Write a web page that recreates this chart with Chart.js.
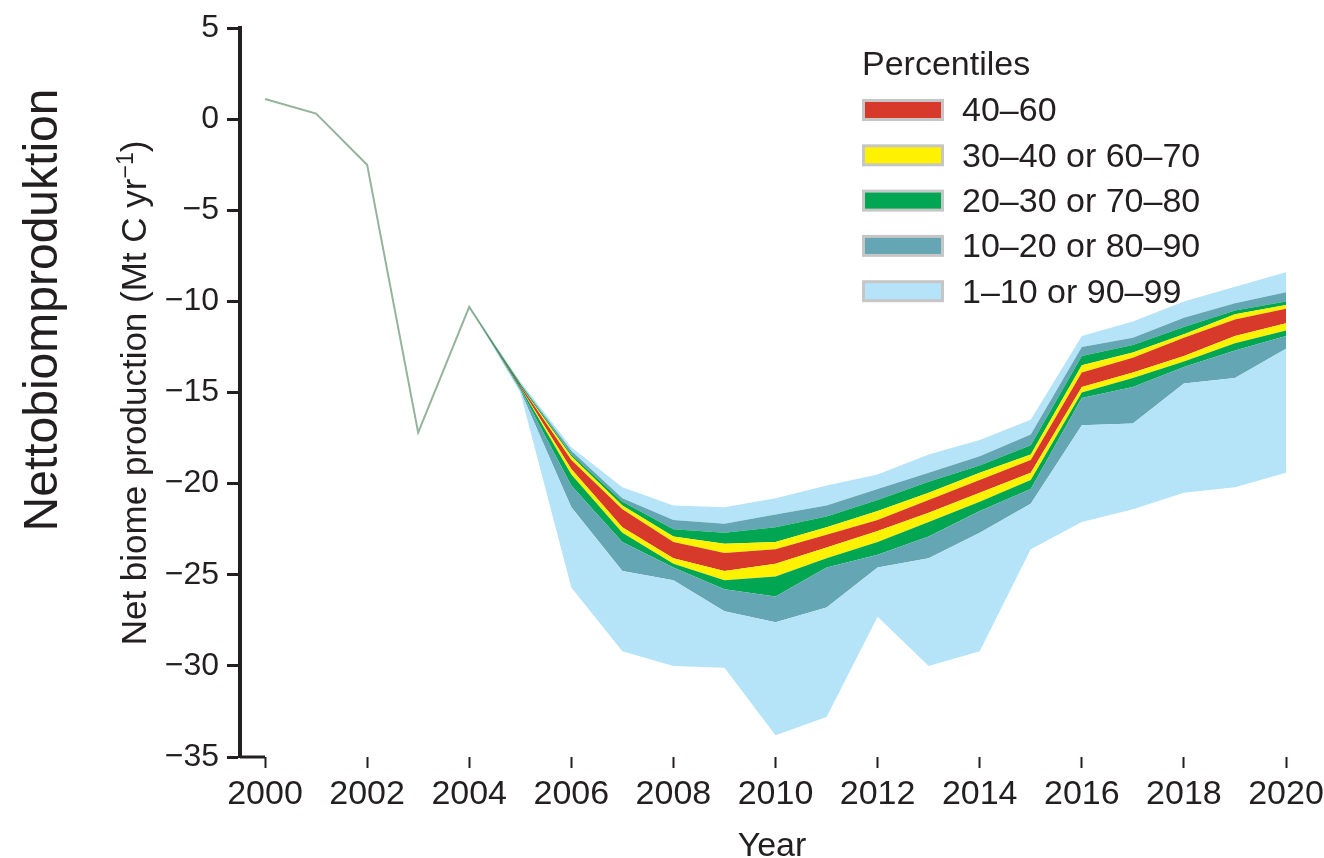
<!DOCTYPE html>
<html>
<head>
<meta charset="utf-8">
<script src="https://cdn.jsdelivr.net/npm/chart.js@4.4.1/dist/chart.umd.min.js"></script>
<style>
html, body { margin: 0; padding: 0; background: #fff; }
#wrap { width: 1324px; height: 858px; position: relative; }
</style>
</head>
<body>
<div id="wrap"><canvas id="chart"></canvas></div>
<script>
// years on the x axis
const years = [2000, 2001, 2002, 2003, 2004, 2005, 2006, 2007, 2008, 2009, 2010,
               2011, 2012, 2013, 2014, 2015, 2016, 2017, 2018, 2019, 2020];
const yearTicks = [2000, 2002, 2004, 2006, 2008, 2010, 2012, 2014, 2016, 2018, 2020];

// percentile boundaries, Mt C per year
const p1  = [1.1, 0.3, -2.5, -17.2, -10.3, -15.0, -25.7, -29.2, -30.0, -30.1, -33.8, -32.8, -27.3, -30.0, -29.2, -23.6, -22.1, -21.4, -20.5, -20.2, -19.4];
const p10 = [1.1, 0.3, -2.5, -17.2, -10.3, -14.9, -21.3, -24.8, -25.3, -27.0, -27.6, -26.8, -24.6, -24.1, -22.7, -21.1, -16.8, -16.7, -14.5, -14.2, -12.6];
const p20 = [1.1, 0.3, -2.5, -17.2, -10.3, -14.8, -20.1, -23.2, -24.6, -25.8, -26.2, -24.6, -23.9, -22.9, -21.5, -20.3, -15.3, -14.7, -13.6, -12.7, -11.9];
const p30 = [1.1, 0.3, -2.5, -17.2, -10.3, -14.7, -19.5, -22.7, -24.4, -25.3, -25.1, -24.1, -23.2, -22.1, -21.0, -19.8, -15.0, -14.2, -13.3, -12.3, -11.6];
const p40 = [1.1, 0.3, -2.5, -17.2, -10.3, -14.7, -19.2, -22.4, -24.1, -24.8, -24.4, -23.5, -22.6, -21.6, -20.5, -19.4, -14.7, -13.9, -13.0, -11.9, -11.2];
const p60 = [1.1, 0.3, -2.5, -17.2, -10.3, -14.6, -18.7, -21.4, -23.2, -23.8, -23.6, -22.8, -22.0, -20.9, -19.8, -18.7, -13.9, -13.1, -12.0, -11.0, -10.4];
const p70 = [1.1, 0.3, -2.5, -17.2, -10.3, -14.6, -18.5, -21.2, -22.9, -23.3, -23.2, -22.4, -21.5, -20.5, -19.4, -18.4, -13.5, -12.8, -11.8, -10.7, -10.2];
const p80 = [1.1, 0.3, -2.5, -17.2, -10.3, -14.5, -18.4, -21.0, -22.5, -22.7, -22.4, -21.8, -20.9, -19.9, -19.0, -17.9, -13.0, -12.4, -11.4, -10.5, -10.0];
const p90 = [1.1, 0.3, -2.5, -17.2, -10.3, -14.5, -18.2, -20.8, -22.0, -22.2, -21.7, -21.2, -20.3, -19.4, -18.5, -17.3, -12.5, -12.0, -10.9, -10.1, -9.5];
const p99 = [1.1, 0.3, -2.5, -17.2, -10.3, -14.4, -18.0, -20.2, -21.2, -21.3, -20.8, -20.1, -19.5, -18.4, -17.6, -16.5, -11.9, -11.1, -10.0, -9.2, -8.4];

// legend entries, inner band first
const bandLabels = ['40–60', '30–40 or 60–70', '20–30 or 70–80', '10–20 or 80–90', '1–10 or 90–99'];
const bandColors = ['#d7392b', '#fff200', '#00a651', '#64a6b3', '#b5e3f8'];

const FONT = "'Liberation Sans', Arial, Helvetica, sans-serif";
const INK = '#231f20';

const bounds = [p1, p10, p20, p30, p40, p60, p70, p80, p90, p99];
// colour of the band between bounds[i-1] and bounds[i]
const bandOf = [null, 4, 3, 2, 1, 0, 1, 2, 3, 4];

function pts(arr) {
  return arr.map((v, i) => ({ x: years[i], y: v }));
}

const datasets = bounds.map((arr, i) => ({
  data: pts(arr),
  borderWidth: 0,
  pointRadius: 0,
  tension: 0,
  fill: i === 0 ? false : '-1',
  backgroundColor: i === 0 ? 'transparent' : bandColors[bandOf[i]],
  borderColor: 'transparent'
}));

// the thin line where all percentiles coincide
datasets.push({
  data: pts(p60).map(p => (p.x <= 2005 ? p : { x: p.x, y: null })),
  borderColor: '#93b39a',
  borderWidth: 2,
  pointRadius: 0,
  tension: 0,
  fill: false,
  spanGaps: false
});

const textPlugin = {
  id: 'texts',
  afterDraw(chart) {
    const ctx = chart.ctx;
    const area = chart.chartArea;
    ctx.save();
    ctx.fillStyle = INK;

    // short base stub from the y axis to the first year tick
    ctx.strokeStyle = INK;
    ctx.lineWidth = 3;
    ctx.beginPath();
    ctx.moveTo(area.left, area.bottom);
    ctx.lineTo(chart.scales.x.getPixelForValue(years[0]), area.bottom);
    ctx.stroke();

    // outer title
    ctx.save();
    ctx.translate(57, 310);
    ctx.rotate(-Math.PI / 2);
    ctx.font = '48px ' + FONT;
    ctx.textAlign = 'center';
    ctx.textBaseline = 'alphabetic';
    ctx.fillText('Nettobiomproduktion', 0, 0);
    ctx.restore();

    // axis title with superscript
    ctx.save();
    ctx.translate(146, 393);
    ctx.rotate(-Math.PI / 2);
    ctx.textAlign = 'left';
    ctx.textBaseline = 'alphabetic';
    const main = 'Net biome production (Mt C yr';
    ctx.font = '35px ' + FONT;
    const w1 = ctx.measureText(main).width;
    const w3 = ctx.measureText(')').width;
    ctx.font = '23px ' + FONT;
    const w2 = ctx.measureText('−1').width;
    const x0 = -(w1 + w2 + w3) / 2;
    ctx.font = '35px ' + FONT;
    ctx.fillText(main, x0, 0);
    ctx.font = '23px ' + FONT;
    ctx.fillText('−1', x0 + w1, -13);
    ctx.font = '35px ' + FONT;
    ctx.fillText(')', x0 + w1 + w2, 0);
    ctx.restore();

    // x title
    ctx.font = '34px ' + FONT;
    ctx.textAlign = 'center';
    ctx.textBaseline = 'alphabetic';
    ctx.fillText('Year', 772, 856);

    // legend
    ctx.textAlign = 'left';
    ctx.fillText('Percentiles', 862, 75);
    bandLabels.forEach((lab, i) => {
      const y = 99 + 45.3 * i;
      ctx.fillStyle = '#c6c6c6';
      ctx.fillRect(862, y, 82, 22);
      ctx.fillStyle = bandColors[i];
      ctx.fillRect(865, y + 3, 76, 16);
      ctx.fillStyle = INK;
      ctx.textBaseline = 'middle';
      ctx.fillText(lab, 962, y + 13);
    });
    ctx.restore();
  }
};

new Chart(document.getElementById('chart'), {
  type: 'line',
  data: { datasets: datasets },
  options: {
    responsive: true,
    maintainAspectRatio: false,
    animation: false,
    layout: { padding: { left: 0, top: 28, right: 38, bottom: 0 } },
    plugins: {
      legend: { display: false },
      tooltip: { enabled: false }
    },
    scales: {
      x: {
        type: 'linear',
        min: 1999.51,
        max: 2020,
        afterFit: s => { s.height = 101; s.paddingLeft = 0; s.paddingRight = 0; },
        afterBuildTicks: s => { s.ticks = yearTicks.map(v => ({ value: v })); },
        border: { display: false },
        grid: {
          drawOnChartArea: false,
          drawTicks: true,
          tickLength: 11,
          tickWidth: 2,
          tickColor: INK
        },
        ticks: {
          autoSkip: false,
          maxRotation: 0,
          padding: 6,
          color: INK,
          font: { family: FONT, size: 34 },
          callback: v => String(v)
        }
      },
      y: {
        min: -35,
        max: 5,
        afterFit: s => { s.width = 240; },
        border: { display: true, width: 4, color: INK },
        grid: {
          drawOnChartArea: false,
          drawTicks: true,
          tickLength: 13,
          tickWidth: 3,
          tickColor: INK
        },
        ticks: {
          stepSize: 5,
          padding: 8,
          color: INK,
          font: { family: FONT, size: 32 },
          callback: v => (v < 0 ? '−' + Math.abs(v) : String(v))
        }
      }
    }
  },
  plugins: [textPlugin]
});
</script>
</body>
</html>
